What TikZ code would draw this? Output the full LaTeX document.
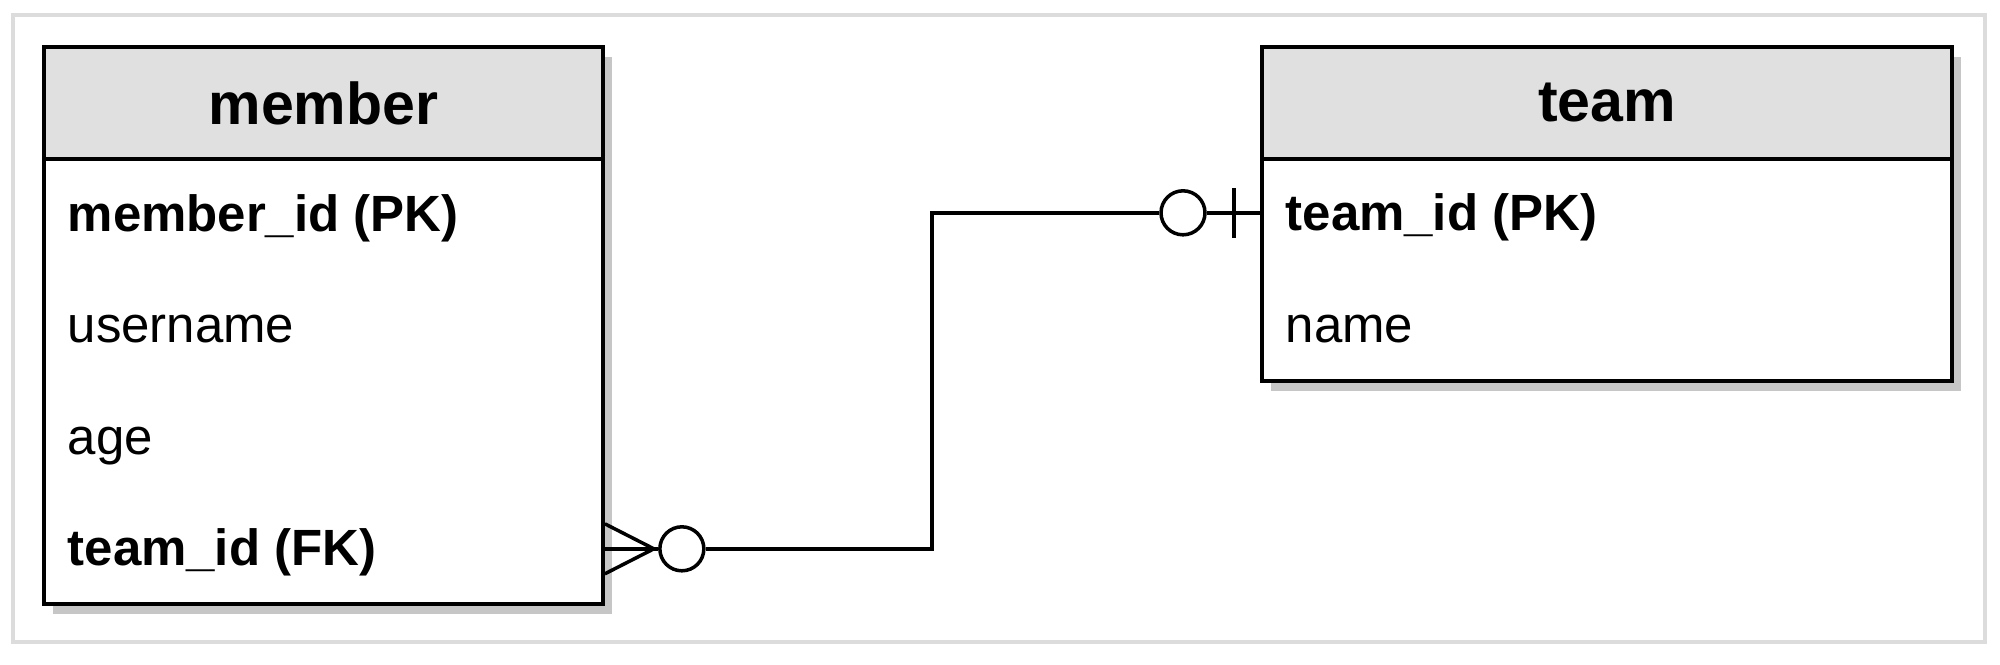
\documentclass[tikz,border=0pt]{standalone}
\usepackage{fontspec}
\setmainfont{Liberation Sans}
\usetikzlibrary{shadows}
\definecolor{headgray}{HTML}{E0E0E0}
\definecolor{shadowgray}{HTML}{C6C6C6}
\definecolor{framegray}{HTML}{DCDCDC}
\begin{document}
\begin{tikzpicture}
[x=1cm,y=-1cm,
  boxdecorate/.style={shape=rectangle,draw,line width=1.1pt,anchor=north west,inner sep=0pt},%
  headdecorate/.style={boxdecorate,fill=headgray,minimum height=1.12cm,%
    font=\fontsize{16.8}{20}\selectfont\bfseries},%
  bodydecorate/.style={boxdecorate,fill=white,%
    drop shadow={shadow xshift=0.09cm,shadow yshift=-0.1cm,fill=shadowgray,opacity=1}},%
  keyrow/.style={anchor=base west,inner sep=0pt,font=\fontsize{14.5}{17}\selectfont\bfseries},%
  plainrow/.style={anchor=base west,inner sep=0pt,font=\fontsize{14.5}{17}\selectfont},%
  linedecorate/.style={-,line width=1pt},%
  ringdecorate/.style={shape=circle,draw,line width=1pt,fill=white,minimum size=0.44cm,inner sep=0pt},%
  framedecorate/.style={draw=framegray,line width=0.9pt},%
  scale=1]
\useasboundingbox (0,0) rectangle (20,6.65);
%% outer frame
\draw[framedecorate] (0.13,0.15) rectangle (19.85,6.42);
%% tables
\node (memberbody) at (0.42,0.45) [bodydecorate,minimum width=5.59cm,minimum height=5.57cm] {};
\node (memberhead) at (memberbody.north west) [headdecorate,minimum width=5.59cm] {member};
\node (teambody) at (12.60,0.45) [bodydecorate,minimum width=6.90cm,minimum height=3.34cm] {};
\node (teamhead) at (teambody.north west) [headdecorate,minimum width=6.90cm] {team};
%% columns
\foreach \nodename/\x/\y/\kind/\txt in {
  %% member
  mid/0.67/2.32/keyrow/member\_id (PK), uname/0.67/3.43/plainrow/username,
  age/0.67/4.55/plainrow/age, fk/0.67/5.66/keyrow/team\_id (FK),
  %% team
  tid/12.85/2.31/keyrow/team\_id (PK), tname/12.85/3.43/plainrow/name} {
  \node (\nodename) at (\x,\y) [\kind] {\txt};
}
%% relation ends
\coordinate (fkport) at ([yshift=0.04cm]memberbody.east |- fk);
\coordinate (foottip) at ([xshift=0.49cm]fkport);
\coordinate (pkport) at ([yshift=0.05cm]teambody.west |- tid);
\coordinate (elbow) at (9.32,0);
\node (fkring) at ([xshift=0.77cm]fkport) [ringdecorate] {};
\node (pkring) at ([xshift=-0.77cm]pkport) [ringdecorate] {};
%% crow foot, many side
\draw[linedecorate] ([yshift=0.25cm]fkport) -- (foottip) -- ([yshift=-0.25cm]fkport);
\draw[linedecorate] (fkport) -- (fkring.west);
%% bar, one side
\draw[linedecorate] ([xshift=-0.26cm,yshift=0.25cm]pkport) -- ([xshift=-0.26cm,yshift=-0.25cm]pkport);
\draw[linedecorate] (pkring.east) -- (pkport);
%% relation line
\draw[linedecorate] (fkring.east) -| (elbow |- pkring) -- (pkring.west);
\end{tikzpicture}
\end{document}
